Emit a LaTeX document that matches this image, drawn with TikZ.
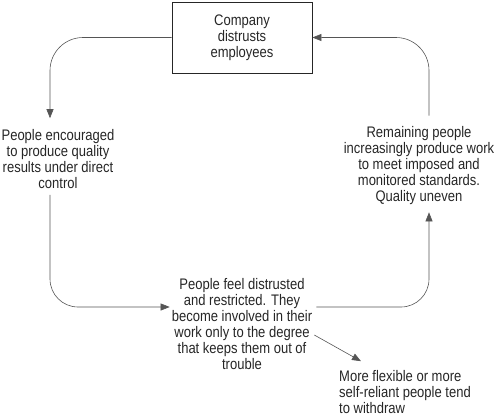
\documentclass[tikz,border=0pt]{standalone}
\usepackage{fontspec}
\setmainfont{Liberation Sans}[FakeStretch=0.85]
\usepackage{xcolor}
\usetikzlibrary{arrows.meta}

\definecolor{ink}{HTML}{262626}
\definecolor{wire}{HTML}{555555}

\begin{document}
\begin{tikzpicture}[x=1pt, y=1pt,
                        every node/.style = {text=ink, align=center, inner sep=2pt, font=\fontsize{15.3}{16}\selectfont},
                        link/.style = {draw=wire, line width=0.6pt, -{Triangle[length=9pt,width=7pt]}}]
                        \useasboundingbox (0,0) rectangle (500,-418);

                        \node (company) [draw=ink, line width=0.8pt, minimum width=140pt, minimum height=71pt] at (242,-37.5) {Company\\distrusts\\employees};
                        \node (encouraged) at (58,-159) {People encouraged\\to produce quality\\results under direct\\control};
                        \node (remaining) at (419,-166) {Remaining people\\increasingly produce work\\to meet imposed and\\monitored standards.\\Quality uneven};
                        \node (distrusted) at (242,-324) {People feel distrusted\\and restricted. They\\become involved in their\\work only to the degree\\that keeps them out of\\trouble};
                        \node (withdraw) [anchor=west, align=left] at (337,-392) {More flexible or more\\self-reliant people tend\\to withdraw};

                        \draw [link, rounded corners=33pt, shorten >=9pt] (company.west) -| ([xshift=-8pt]encouraged.north);
                        \draw [link, rounded corners=28pt, shorten <=4pt] ([xshift=-8pt]encouraged.south) |- ([yshift=17pt]distrusted.west);
                        \draw [link, rounded corners=28pt, shorten <=2pt, shorten >=5pt] ([yshift=17pt]distrusted.east) -| ([xshift=10pt]remaining.south);
                        \draw [link, rounded corners=33pt, shorten <=9pt] ([xshift=10pt]remaining.north) |- (company.east);
                        \draw [link] ([yshift=-11pt]distrusted.east) -- ([xshift=24pt,yshift=7pt]withdraw.north west);
                    \end{tikzpicture}
\end{document}
